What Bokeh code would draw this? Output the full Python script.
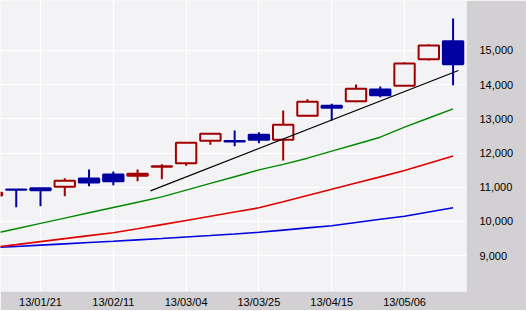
from bokeh.plotting import figure
from bokeh.models import FixedTicker, NumeralTickFormatter, ColumnDataSource, Div
from bokeh.layouts import column
from bokeh.embed import file_html
from bokeh.resources import INLINE

# ---- data ----
dates = ["13/01/07", "13/01/14", "13/01/21", "13/01/28", "13/02/04", "13/02/11", "13/02/18",
         "13/02/25", "13/03/04", "13/03/11", "13/03/18", "13/03/25", "13/04/01", "13/04/08",
         "13/04/15", "13/04/22", "13/04/29", "13/05/06", "13/05/13", "13/05/20"]
opens  = [10760, 10935, 10970, 11010, 11253, 11370, 11333, 11595, 11701, 12357,
          12350, 12533, 12386, 13089, 13381, 13516, 13858, 13967, 14745, 15272]
highs  = [10900, 10940, 10975, 11262, 11517, 11458, 11517, 11672, 12300, 12565,
          12658, 12609, 13244, 13575, 13440, 14005, 13946, 14658, 15184, 15937]
lows   = [10700, 10413, 10443, 10735, 11028, 11057, 11174, 11233, 11625, 12240,
          12199, 12287, 11780, 13085, 12951, 13487, 13633, 13967, 14707, 13984]
closes = [10840, 10925, 10910, 11186, 11136, 11174, 11391, 11610, 12298, 12562,
          12340, 12386, 12825, 13498, 13323, 13879, 13692, 14619, 15146, 14599]
ma_green = [9626, 9784, 9939, 10095, 10250, 10405, 10560, 10715, 10914, 11110,
            11306, 11505, 11669, 11848, 12053, 12257, 12462, 12755, 13024, 13294]
ma_red   = [9234, 9319, 9407, 9495, 9582, 9668, 9782, 9904, 10027, 10150,
            10273, 10396, 10574, 10756, 10937, 11122, 11301, 11488, 11700, 11910]
ma_blue  = [9228, 9266, 9304, 9342, 9380, 9418, 9459, 9500, 9544, 9585,
            9629, 9679, 9743, 9808, 9869, 9966, 10062, 10150, 10273, 10396]
trend_x = [6.53, 19.22]
trend_y = [10893, 14415]
x_tick_pos = [2, 5, 8, 11, 14, 17]
x_tick_labels = ["13/01/21", "13/02/11", "13/03/04", "13/03/25", "13/04/15", "13/05/06"]
y_ticks = [9000, 10000, 11000, 12000, 13000, 14000, 15000]

# ---- styling ----
PANEL = "#D2D0D2"
BG = "#F3F2F4"
UP = "#A00000"
DOWN = "#0000A0"

idx = list(range(len(dates)))
up = [c >= o for o, c in zip(opens, closes)]
src = ColumnDataSource(dict(
    x=idx,
    top=[max(o, c) for o, c in zip(opens, closes)],
    bottom=[min(o, c) for o, c in zip(opens, closes)],
    high=highs, low=lows,
    color=[UP if u else DOWN for u in up],
    fill=[BG if u else DOWN for u in up],
))

p = figure(frame_width=466, frame_height=291, output_backend="svg", toolbar_location=None,
           x_range=(0.352, 19.553), y_range=(7947, 16463), y_axis_location="right",
           min_border_left=0, min_border_top=0, min_border_right=60, min_border_bottom=18)
p.background_fill_color = BG
p.border_fill_color = PANEL
p.outline_line_color = None

p.segment(x0="x", x1="x", y0="high", y1="low", line_color="color", line_width=2, source=src)
p.vbar(x="x", width=0.84, top="top", bottom="bottom", fill_color="fill",
       line_color="color", line_width=2, source=src)

p.line(idx, ma_blue, line_color="#0000E0", line_width=1.6)
p.line(idx, ma_red, line_color="#E00000", line_width=1.6)
p.line(idx, ma_green, line_color="#008800", line_width=1.4)
p.line(trend_x, trend_y, line_color="black", line_width=1.2)

p.xaxis.ticker = FixedTicker(ticks=x_tick_pos)
p.xaxis.major_label_overrides = {pos: lab for pos, lab in zip(x_tick_pos, x_tick_labels)}
p.yaxis.ticker = FixedTicker(ticks=y_ticks)
p.yaxis.formatter = NumeralTickFormatter(format="0,0")
for ax in (p.xaxis[0], p.yaxis[0]):
    ax.axis_line_color = None
    ax.major_tick_line_color = None
    ax.minor_tick_line_color = None
    ax.major_tick_out = 0
    ax.major_tick_in = 0
    ax.minor_tick_out = 0
    ax.minor_tick_in = 0
    ax.major_label_text_font = "Liberation Sans"
    ax.major_label_text_font_size = "11px"
    ax.major_label_text_color = "black"
p.xaxis.major_label_standoff = 4
p.yaxis.major_label_standoff = 13

p.xgrid.ticker = FixedTicker(ticks=x_tick_pos)
p.ygrid.ticker = FixedTicker(ticks=y_ticks)
p.grid.grid_line_color = "white"
p.grid.grid_line_width = 1.2

bar = Div(text="", width=466, height=2, styles={"background-color": "#7474A4"})
layout = column(p, bar, spacing=0)

open("out.html", "w").write(file_html(layout, INLINE))
